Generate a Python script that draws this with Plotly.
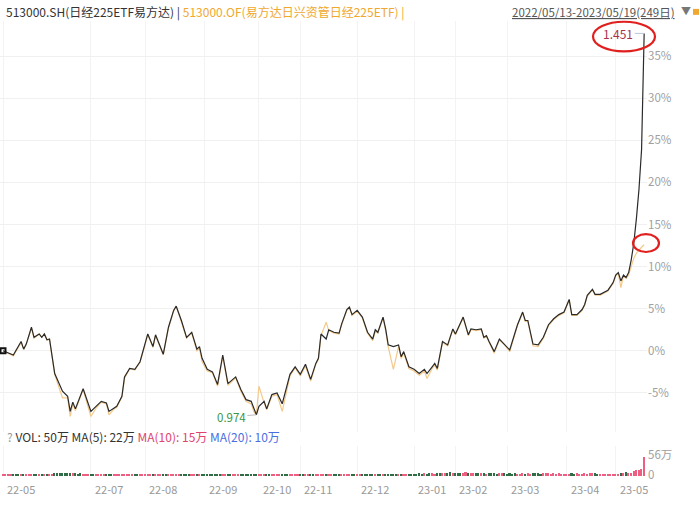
import bisect
import plotly.graph_objects as go

W, H = 700, 507

# ---------------- data ----------------
# trading-day index (0 = 2022/05/13, 248 = 2023/05/19) and % change, 513000.SH (price)
days_sh = [0, 4, 7, 8, 9, 11, 12, 14, 15, 16, 17, 18, 20, 23, 25, 26, 27, 28, 31, 34,
           36, 38, 40, 41, 43, 44, 46, 47, 49, 51, 53, 56, 58, 59, 62, 64, 66, 67, 69, 71,
           73, 75, 76, 77, 79, 81, 83, 85, 87, 89, 90, 92, 94, 96, 97, 98, 99, 101, 102, 104,
           106, 108, 111, 113, 115, 117, 119, 121, 122, 123, 125, 126, 128, 130, 131, 133, 134, 135, 137, 139,
           141, 143, 144, 145, 147, 148, 149, 151, 153, 154, 155, 157, 159, 161, 163, 164, 166, 167, 168, 170,
           172, 174, 175, 178, 180, 181, 183, 185, 186, 187, 188, 190, 192, 194, 196, 199, 201, 202, 203, 205,
           207, 209, 211, 213, 215, 217, 219, 220, 222, 224, 225, 226, 228, 229, 231, 234, 236, 237, 238, 239,
           240, 241, 242, 243, 244, 245, 246, 247, 248]
pct_sh = [0.0, -0.5, 1.1, 0.2, 0.8, 2.8, 1.6, 2.0, 1.6, 2.0, 1.3, 1.4, -2.7, -4.8, -5.4, -7.2, -6.1, -6.9, -4.5, -7.2,
          -6.6, -6.0, -6.2, -7.2, -6.8, -6.6, -5.4, -3.1, -2.1, -2.2, -1.3, 2.0, 0.5, 1.9, -0.4, 2.8, 4.8, 5.3, 3.6, 1.6,
          2.2, 0.2, 0.5, -0.9, -2.2, -2.5, -4.0, -0.5, -3.9, -3.4, -3.1, -4.6, -5.8, -6.0, -6.8, -7.6, -6.6, -6.0, -6.9, -5.2,
          -5.0, -6.3, -2.8, -1.9, -2.8, -1.6, -3.4, -1.5, -0.9, 2.0, 1.4, 2.5, 2.2, 2.1, 3.2, 4.9, 5.2, 4.3, 4.8, 4.0,
          2.2, 1.4, 2.5, 2.2, 4.0, 2.6, 0.7, 0.5, 0.7, -0.7, -0.1, -1.9, -2.2, -2.7, -2.2, -2.7, -1.9, -1.5, -2.1, 1.1,
          0.7, 2.6, 2.0, 4.0, 1.9, 2.6, 2.5, 2.6, 1.6, 1.8, 1.1, -0.1, 1.4, 0.8, 0.1, 3.1, 4.6, 3.6, 3.6, 0.8,
          0.7, 1.6, 3.1, 3.8, 4.3, 4.6, 6.1, 4.3, 4.3, 4.9, 5.5, 6.6, 7.3, 6.7, 6.7, 7.2, 8.1, 9.0, 9.3, 8.3,
          9.0, 8.7, 9.3, 10.8, 12.8, 15.7, 19.2, 23.9, 37.7]

# 513000.OF (fund NAV), % change on the same days
days_of = days_sh
pct_of = [0.0, -0.6, 1.0, 0.2, 0.8, 2.7, 1.5, 2.0, 1.6, 2.0, 1.3, 1.3, -2.8, -5.6, -5.6, -7.8, -6.3, -7.1, -4.6, -7.8,
          -6.8, -6.1, -6.3, -7.6, -6.9, -6.7, -5.5, -3.3, -2.1, -2.3, -1.4, 1.9, 0.4, 1.8, -0.5, 2.7, 4.7, 5.3, 3.4, 1.5,
          2.1, 0.0, 0.3, -1.3, -2.4, -2.6, -4.2, -0.7, -4.1, -3.5, -3.2, -4.8, -6.0, -6.3, -7.2, -7.6, -4.2, -6.2, -7.0, -5.4,
          -5.2, -7.2, -3.0, -2.0, -3.0, -1.8, -3.6, -1.6, -1.0, 1.8, 3.4, 2.4, 2.1, 2.0, 3.1, 4.8, 5.1, 4.2, 4.7, 3.9,
          2.1, 1.2, 2.3, 2.1, 3.9, 2.4, 0.5, -2.2, 0.5, -0.9, -0.3, -2.1, -2.4, -2.9, -2.4, -3.3, -2.1, -1.7, -2.3, 1.0,
          0.6, 2.5, 1.9, 3.9, 1.8, 2.5, 2.4, 2.5, 1.5, 1.7, 1.0, -0.3, 1.3, 0.7, -0.1, 3.0, 4.5, 3.5, 3.5, 0.6,
          0.5, 1.5, 3.0, 3.7, 4.2, 4.5, 6.0, 4.2, 4.2, 4.8, 5.4, 6.5, 7.2, 6.6, 6.6, 7.1, 8.0, 8.9, 9.2, 7.5,
          8.9, 8.6, 9.0, 10.0, 11.0, 11.6, 12.0, 12.3, 12.6]

# daily volume (万)
vol_wan = [3, 2, 2, 3, 2, 2, 3, 2, 3, 2, 2, 3, 2,
           3, 3, 2, 2, 3, 4, 5, 6, 7, 6, 8, 7, 6, 8, 7, 6, 5, 6, 5, 4, 4,
           3, 3, 3, 4, 3, 3, 2, 3, 3, 2, 3, 3, 2, 3, 3, 2, 3, 3, 3, 2, 3,
           3, 2, 3, 3, 2, 3, 4, 3, 3, 2, 2, 3, 3, 2, 3, 2, 3, 3, 2, 2, 3, 2, 3,
           2, 3, 3, 2, 3, 4, 3, 3, 2, 3, 3, 3, 2, 3, 2, 3, 3, 2, 3, 3, 4,
           3, 3, 2, 3, 3, 2, 3, 3, 3, 2, 3, 2, 3, 3, 2, 3,
           3, 2, 3, 3, 3, 2, 3, 4, 3, 3, 2, 3, 3, 3, 2, 3, 3, 2, 3, 3, 3, 2,
           3, 3, 2, 3, 3, 3, 4, 3, 3, 3, 4, 3, 3, 4, 4, 3, 4, 3, 3, 4, 4, 5,
           4, 5, 6, 5, 6, 5, 7, 6, 5, 6, 7, 6, 8, 7, 9, 8,
           7, 8, 6, 7, 9, 8, 7, 6, 7, 8, 7, 6, 5, 6, 7, 6, 5, 6, 7, 6,
           5, 6, 5, 6, 5, 5, 6, 5, 6, 5, 6, 7, 6, 5, 6, 7, 6, 5, 6, 5, 6, 5, 5,
           5, 5, 6, 5, 6, 5, 5, 6, 5, 6, 7, 6, 5, 5, 4, 5, 5, 5, 5,
           5, 5, 7, 8, 9, 8, 8, 12, 14, 16, 18, 50]

tick_days = [0, 34, 55, 78, 99, 115, 137, 159, 175, 195, 218, 237]
tick_text = ['22-05', '22-07', '22-08', '22-09', '22-10', '22-11', '22-12',
             '23-01', '23-02', '23-03', '23-04', '23-05']
y_ticks = [-5, 0, 5, 10, 15, 20, 25, 30, 35]
vol_ticks = [0, 56]
vol_tick_text = ['0', '56万']

min_day, min_label = 98, '0.974'
max_day, max_label = 248, '1.451'

title_sh = '513000.SH(日经225ETF易方达)'
title_of = '513000.OF(易方达日兴资管日经225ETF)'
date_range = '2022/05/13-2023/05/19(249日)'
vol_text = ('<span style="color:#999">?</span> VOL: 50万 MA(5): 22万 '
            '<span style="color:#e0436f">MA(10): 15万</span> '
            '<span style="color:#4a6ee0">MA(20): 10万</span>')

# ---------------- layout helpers ----------------
FONT = 'Noto Sans CJK SC, Noto Sans, sans-serif'


def px_x(p):
    return p / W


def px_y(p):
    return 1 - p / H


X_DOM = [0, px_x(647)]
X_RANGE = [-1.16, 249.1]
MAIN_DOM = [px_y(437), px_y(21)]
MAIN_RANGE = [(355 - 437) / 8.52, (355 - 21) / 8.52]
VOL_DOM = [px_y(482), px_y(451)]
VOL_RANGE = [-(1) * 56 / 21, 30 * 56 / 21]

fig = go.Figure()

fig.add_trace(go.Scatter(x=days_of, y=pct_of, mode='lines',
                         line=dict(color='#f4c98a', width=1.2),
                         xaxis='x', yaxis='y', hoverinfo='skip'))
fig.add_trace(go.Scatter(x=days_sh, y=pct_sh, mode='lines',
                         line=dict(color='#2a2a2a', width=1.2),
                         xaxis='x', yaxis='y', hoverinfo='skip'))
fig.add_trace(go.Scatter(x=[days_sh[0]], y=[pct_sh[0]], mode='markers',
                         marker=dict(symbol='square-open', size=5, color='#111',
                                     line=dict(width=2, color='#111')),
                         xaxis='x', yaxis='y', hoverinfo='skip'))


def is_up(d):
    k = bisect.bisect_right(days_sh, d) - 1
    if k <= 0:
        return True
    return pct_sh[k] >= pct_sh[k - 1]


vol_days = list(range(len(vol_wan)))
vol_colors = ['#ec5f82' if is_up(d) else '#2f6e45' for d in vol_days]
fig.add_trace(go.Bar(x=vol_days, y=vol_wan, marker=dict(color=vol_colors, line=dict(width=0)),
                     width=0.6, xaxis='x2', yaxis='y2', hoverinfo='skip'))

annotations = []
# header
annotations.append(dict(x=px_x(4), y=px_y(12), xref='paper', yref='paper', xanchor='left', yanchor='middle',
                        showarrow=False,
                        text=f'{title_sh} | <span style="color:#f0a830">{title_of} |</span>',
                        font=dict(family=FONT, size=12, color='#333')))
annotations.append(dict(x=px_x(677), y=px_y(12), xref='paper', yref='paper', xanchor='right', yanchor='middle',
                        showarrow=False, text=f'<u>{date_range}</u>',
                        font=dict(family=FONT, size=11.5, color='#555')))
annotations.append(dict(x=px_x(679), y=px_y(11), xref='paper', yref='paper', xanchor='left', yanchor='middle',
                        showarrow=False, text='▼', font=dict(family=FONT, size=10, color='#777')))
# volume legend
annotations.append(dict(x=px_x(5), y=px_y(442), xref='paper', yref='paper', xanchor='left', yanchor='middle',
                        showarrow=False, text=vol_text, font=dict(family=FONT, size=12, color='#333')))
# x tick labels (left aligned at first trading day of month)
for d, t in zip(tick_days, tick_text):
    annotations.append(dict(x=d, y=px_y(495), xref='x2', yref='paper', xanchor='left', yanchor='middle',
                            xshift=2, showarrow=False, text=t,
                            font=dict(family=FONT, size=11, color='#999')))
# min / max labels
annotations.append(dict(x=min_day, y=pct_sh[days_sh.index(min_day)], xref='x', yref='y',
                        text=min_label, showarrow=True, arrowhead=0, arrowwidth=1, arrowcolor='#bbb',
                        ax=-25, ay=2, font=dict(family=FONT, size=11.5, color='#3a9440')))
annotations.append(dict(x=max_day, y=pct_sh[days_sh.index(max_day)], xref='x', yref='y',
                        text=max_label, showarrow=True, arrowhead=0, arrowwidth=1, arrowcolor='#b8c4d8',
                        ax=-26, ay=0, font=dict(family=FONT, size=12, color='#a8324a')))

shapes = [
    dict(type='circle', xref='paper', yref='paper', x0=px_x(593), x1=px_x(655), y0=px_y(52), y1=px_y(22),
         line=dict(color='#e0201e', width=2.2)),
    dict(type='circle', xref='paper', yref='paper', x0=px_x(633), x1=px_x(659), y0=px_y(255), y1=px_y(237),
         line=dict(color='#e0201e', width=2.2)),
    dict(type='rect', xref='paper', yref='paper', x0=px_x(693), x1=px_x(699), y0=px_y(15), y1=px_y(9),
         line=dict(width=0), fillcolor='#f0a830'),
]

fig.update_layout(
    width=W, height=H,
    margin=dict(l=0, r=0, t=0, b=0),
    paper_bgcolor='white', plot_bgcolor='white',
    showlegend=False, bargap=0,
    font=dict(family=FONT),
    xaxis=dict(domain=X_DOM, range=X_RANGE, tickvals=tick_days, showticklabels=False,
               showgrid=True, gridcolor='#f3f3f3', gridwidth=1, zeroline=False, showline=False,
               ticks='', anchor='y'),
    yaxis=dict(domain=MAIN_DOM, range=MAIN_RANGE, side='right', tickvals=y_ticks,
               ticktext=[f'{v}%' for v in y_ticks], tickfont=dict(family=FONT, size=11.5, color='#a0a0a0'),
               showgrid=True, gridcolor='#f0f0f0', gridwidth=1, zeroline=False, showline=False,
               ticks='', anchor='x'),
    xaxis2=dict(domain=X_DOM, range=X_RANGE, tickvals=tick_days, showticklabels=False,
                showgrid=True, gridcolor='#f3f3f3', zeroline=False, showline=False, ticks='', anchor='y2'),
    yaxis2=dict(domain=VOL_DOM, range=VOL_RANGE, side='right', tickvals=vol_ticks, ticktext=vol_tick_text,
                tickfont=dict(family=FONT, size=11.5, color='#a0a0a0'), showgrid=False, zeroline=False,
                showline=False, ticks='', anchor='x2'),
    annotations=annotations,
    shapes=shapes,
)

fig.write_html('out.html')
